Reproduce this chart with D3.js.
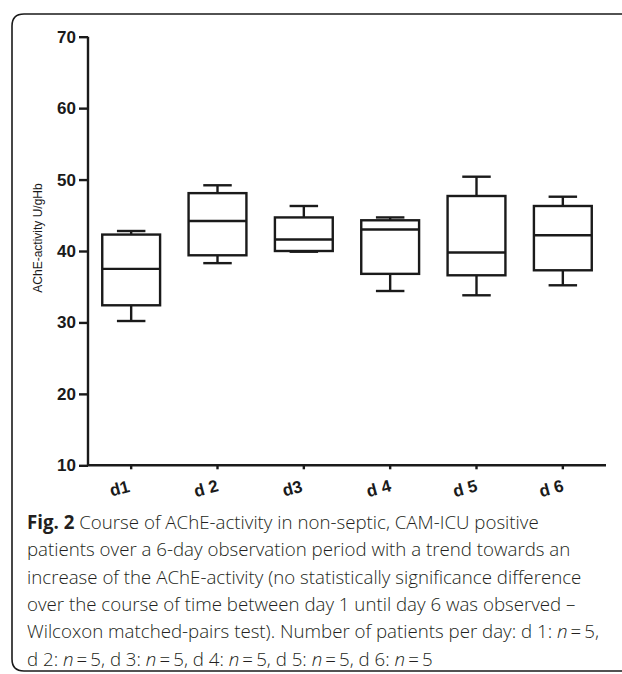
<!DOCTYPE html>
<html>
<head>
<meta charset="utf-8">
<script src="https://cdn.jsdelivr.net/npm/d3@7"></script>
<style>
  body { margin: 0; background: #fff; overflow: hidden; }
  svg { display: block; }
</style>
</head>
<body>
<svg id="chart"></svg>
<script>
// Données (AChE U/gHb)
const days = ["d1", "d 2", "d3", "d 4", "d 5", "d 6"];
const whiskerLow = [30.2, 38.3, 39.9, 34.4, 33.8, 35.2];
const q1 = [32.4, 39.4, 40.0, 36.8, 36.6, 37.3];
const median = [37.5, 44.2, 41.6, 43.0, 39.8, 42.2];
const q3 = [42.3, 48.1, 44.7, 44.3, 47.7, 46.3];
const whiskerHigh = [42.8, 49.2, 46.3, 44.7, 50.4, 47.6];
const yTicks = [10, 20, 30, 40, 50, 60, 70];

const captionLines = [
  [["Fig. 2", "b"], [" Course of AChE-activity in non-septic, CAM-ICU positive", ""]],
  [["patients over a 6-day observation period with a trend towards an", ""]],
  [["increase of the AChE-activity (no statistically significance difference", ""]],
  [["over the course of time between day 1 until day 6 was observed \u2013", ""]],
  [["Wilcoxon matched-pairs test). Number of patients per day: d 1: ", ""], ["n", "i"], ["\u2009=\u20095,", ""]],
  [["d 2: ", ""], ["n", "i"], ["\u2009=\u20095, d 3: ", ""], ["n", "i"], ["\u2009=\u20095, d 4: ", ""], ["n", "i"], ["\u2009=\u20095, d 5: ", ""], ["n", "i"], ["\u2009=\u20095, d 6: ", ""], ["n", "i"], ["\u2009=\u20095", ""]]
];

const svg = d3.select("#chart");
svg.attr("width", 622).attr("height", 674);

const ink = "#1a1a1a";

// cadre arrondi (côté gauche seulement visible)
svg.append("path")
  .attr("d", "M700,14 L24,14 Q12,14 12,26 L12,659 Q12,671 24,671 L700,671")
  .attr("fill", "none")
  .attr("stroke", ink)
  .attr("stroke-width", 1.6);

const x = d3.scaleBand().domain(days).range([88, 606]).padding(0);
const y = d3.scaleLinear().domain([10, 70]).range([465.3, 36.7]);

const g = svg.append("g");

// axe Y
const yAxis = g.append("g")
  .attr("transform", "translate(88,0)")
  .call(d3.axisLeft(y).tickValues(yTicks).tickSize(9).tickPadding(3));
yAxis.select(".domain").attr("d", `M0,${y(70)}V${y(10)}`);
yAxis.selectAll("line, path").attr("stroke", ink).attr("stroke-width", 2.4);
yAxis.selectAll("text")
  .attr("font-family", "Liberation Sans, Arial, sans-serif")
  .attr("font-weight", "bold")
  .attr("font-size", 17)
  .attr("fill", ink);

// axe X
const xAxis = g.append("g")
  .attr("transform", `translate(0,${y(10)})`)
  .call(d3.axisBottom(x).tickSize(4).tickFormat(""));
xAxis.select(".domain").attr("d", "M88,0H606");
xAxis.selectAll("line, path").attr("stroke", ink).attr("stroke-width", 2.4);

// étiquettes X inclinées
g.selectAll(".xlab")
  .data(days)
  .join("text")
  .attr("class", "xlab")
  .attr("transform", d => `translate(${x(d) + x.bandwidth() / 2 - 10},494) rotate(-15)`)
  .attr("text-anchor", "middle")
  .attr("font-family", "Liberation Sans, Arial, sans-serif")
  .attr("font-weight", "bold")
  .attr("font-size", 17)
  .attr("fill", ink)
  .text(d => d);

// titre de l'axe Y
g.append("text")
  .attr("transform", "translate(42,238) rotate(-90)")
  .attr("text-anchor", "middle")
  .attr("font-family", "Liberation Sans, Arial, sans-serif")
  .attr("font-size", 12)
  .attr("fill", ink)
  .text("AChE-activity U/gHb");

// boîtes à moustaches
const boxW = x.bandwidth() * 0.67;
const capW = x.bandwidth() * 0.33;
const boxes = g.selectAll(".box")
  .data(days.map((d, i) => ({ d, lo: whiskerLow[i], q1: q1[i], med: median[i], q3: q3[i], hi: whiskerHigh[i] })))
  .join("g")
  .attr("class", "box")
  .attr("transform", d => `translate(${x(d.d) + x.bandwidth() / 2},0)`)
  .attr("stroke", ink)
  .attr("stroke-width", 2.4)
  .attr("fill", "none");

boxes.append("line").attr("x1", 0).attr("x2", 0).attr("y1", d => y(d.hi)).attr("y2", d => y(d.q3));
boxes.append("line").attr("x1", 0).attr("x2", 0).attr("y1", d => y(d.q1)).attr("y2", d => y(d.lo));
boxes.append("line").attr("x1", -capW / 2).attr("x2", capW / 2).attr("y1", d => y(d.hi)).attr("y2", d => y(d.hi));
boxes.append("line").attr("x1", -capW / 2).attr("x2", capW / 2).attr("y1", d => y(d.lo)).attr("y2", d => y(d.lo));
boxes.append("rect")
  .attr("x", -boxW / 2)
  .attr("width", boxW)
  .attr("y", d => y(d.q3))
  .attr("height", d => y(d.q1) - y(d.q3))
  .attr("fill", "#fff");
boxes.append("line").attr("x1", -boxW / 2).attr("x2", boxW / 2).attr("y1", d => y(d.med)).attr("y2", d => y(d.med));

// légende de la figure
const cap = svg.append("text")
  .attr("font-family", "Open Sans, sans-serif")
  .attr("font-weight", 300)
  .attr("font-size", 18.7)
  .attr("fill", "#231f20");
captionLines.forEach((line, li) => {
  line.forEach(([txt, style], si) => {
    const t = cap.append("tspan").text(txt);
    if (si === 0) t.attr("x", 27).attr("y", 529 + li * 27.3);
    if (style === "b") t.attr("font-weight", "bold");
    if (style === "i") t.attr("font-style", "italic");
  });
});
</script>
</body>
</html>
